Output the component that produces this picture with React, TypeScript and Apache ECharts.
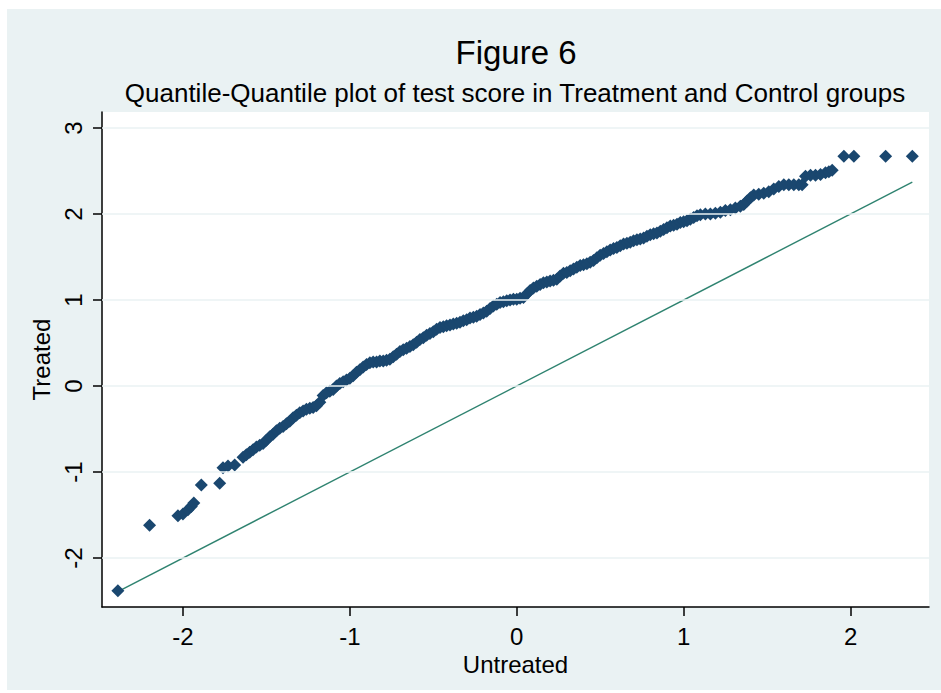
import React, { useEffect, useRef } from "react";
import * as echarts from "echarts";

const titleText = "Figure 6";
const subtitleText = "Quantile-Quantile plot of test score in Treatment and Control groups";
const xName = "Untreated";
const yName = "Treated";

const xTicks = [-2, -1, 0, 1, 2];
const yTicks = [-2, -1, 0, 1, 2, 3];

// Quantiles of untreated (x) and treated (y) test scores
const untreated = [
  -2.39, -2.2, -2.03, -2.0, -1.97, -1.95, -1.935, -1.89, -1.78, -1.76, -1.73, -1.69,
  -1.64, -1.62, -1.6, -1.58, -1.56, -1.54, -1.52, -1.5, -1.48, -1.46,
  -1.44, -1.42, -1.4, -1.38, -1.36, -1.34, -1.32, -1.3, -1.28, -1.26,
  -1.24, -1.22, -1.2, -1.18, -1.16, -1.14, -1.12, -1.1, -1.08, -1.06,
  -1.04, -1.02, -1.0, -0.98, -0.96, -0.94, -0.92, -0.9, -0.88, -0.86,
  -0.84, -0.82, -0.8, -0.78, -0.76, -0.74, -0.72, -0.7, -0.68, -0.66,
  -0.64, -0.62, -0.6, -0.58, -0.56, -0.54, -0.52, -0.5, -0.48, -0.46,
  -0.44, -0.42, -0.4, -0.38, -0.36, -0.34, -0.32, -0.3, -0.28, -0.26,
  -0.24, -0.22, -0.2, -0.18, -0.16, -0.14, -0.12, -0.1, -0.08, -0.06,
  -0.04, -0.02, 0.0, 0.02, 0.04, 0.06, 0.08, 0.1, 0.12, 0.14,
  0.16, 0.18, 0.2, 0.22, 0.24, 0.26, 0.28, 0.3, 0.32, 0.34,
  0.36, 0.38, 0.4, 0.42, 0.44, 0.46, 0.48, 0.5, 0.52, 0.54,
  0.56, 0.58, 0.6, 0.62, 0.64, 0.66, 0.68, 0.7, 0.72, 0.74,
  0.76, 0.78, 0.8, 0.82, 0.84, 0.86, 0.88, 0.9, 0.92, 0.94,
  0.96, 0.98, 1.0, 1.02, 1.04, 1.06, 1.08, 1.1,
  1.13, 1.16, 1.19, 1.22, 1.25, 1.28, 1.31, 1.34, 1.36, 1.38,
  1.4, 1.42, 1.45, 1.48, 1.51, 1.54, 1.57, 1.6, 1.63, 1.66,
  1.69, 1.71, 1.73, 1.76, 1.79, 1.82, 1.85, 1.87, 1.89,
  1.96, 2.02, 2.21, 2.37,
];

const treated = [
  -2.38, -1.62, -1.51, -1.49, -1.44, -1.4, -1.36, -1.15, -1.13, -0.95, -0.93, -0.92,
  -0.83, -0.8, -0.77, -0.74, -0.71, -0.69, -0.67, -0.63, -0.59, -0.56,
  -0.52, -0.49, -0.47, -0.44, -0.41, -0.37, -0.34, -0.31, -0.29, -0.27,
  -0.26, -0.25, -0.23, -0.19, -0.11, -0.08, -0.06, -0.04, 0.0, 0.03,
  0.05, 0.07, 0.09, 0.12, 0.16, 0.19, 0.22, 0.25, 0.27, 0.28,
  0.28, 0.29, 0.29, 0.3, 0.31, 0.34, 0.37, 0.4, 0.42, 0.44,
  0.46, 0.48, 0.51, 0.54, 0.56, 0.59, 0.61, 0.63, 0.66, 0.68,
  0.69, 0.7, 0.71, 0.72, 0.73, 0.74, 0.76, 0.77, 0.79, 0.8,
  0.81, 0.83, 0.85, 0.87, 0.9, 0.93, 0.95, 0.97, 0.98, 0.99,
  1.0, 1.01, 1.01, 1.02, 1.03, 1.07, 1.11, 1.14, 1.16, 1.18,
  1.2, 1.21, 1.22, 1.23, 1.24, 1.28, 1.31, 1.32, 1.34, 1.36,
  1.38, 1.4, 1.41, 1.42, 1.44, 1.46, 1.49, 1.52, 1.54, 1.56,
  1.58, 1.6, 1.61, 1.63, 1.65, 1.66, 1.67, 1.69, 1.7, 1.71,
  1.72, 1.74, 1.76, 1.77, 1.78, 1.8, 1.82, 1.84, 1.86, 1.87,
  1.88, 1.9, 1.91, 1.92, 1.94, 1.96, 1.98, 1.99,
  2.0, 2.0, 2.01, 2.02, 2.04, 2.05, 2.07, 2.09, 2.11, 2.15,
  2.19, 2.22, 2.23, 2.24, 2.26, 2.29, 2.32, 2.34, 2.34, 2.34,
  2.34, 2.34, 2.44, 2.45, 2.45, 2.46, 2.48, 2.49, 2.51,
  2.67, 2.67, 2.67, 2.67,
];

// Reference line y = x between the extremes
const refLineEnds = [-2.39, 2.37];

const FONT = "Arial, 'Liberation Sans', Helvetica, sans-serif";

export default function App() {
  const ref = useRef<HTMLDivElement>(null);

  useEffect(() => {
    document.body.style.margin = "0";
    const chart = echarts.init(ref.current!, null, { renderer: "svg" });
    const n = Math.min(untreated.length, treated.length);
    const points: number[][] = [];
    for (let i = 0; i < n; i++) points.push([untreated[i], treated[i]]);

    chart.setOption({
      animation: false,
      backgroundColor: "#ffffff",
      textStyle: { fontFamily: FONT },
      graphic: [
        {
          type: "rect",
          z: -100,
          silent: true,
          shape: { x: 7, y: 9, width: 934, height: 681 },
          style: { fill: "#eaf2f3" },
        },
        {
          type: "text",
          x: 516,
          y: 52,
          style: {
            text: titleText,
            fill: "#000",
            font: `33px ${FONT}`,
            textAlign: "center",
            textVerticalAlign: "middle",
          },
        },
        {
          type: "text",
          x: 515,
          y: 93,
          style: {
            text: subtitleText,
            fill: "#000",
            font: `26px ${FONT}`,
            textAlign: "center",
            textVerticalAlign: "middle",
          },
        },
      ],
      grid: {
        left: 102,
        right: 12,
        top: 112,
        bottom: 86,
        show: true,
        backgroundColor: "#ffffff",
        borderWidth: 0,
      },
      xAxis: {
        type: "value",
        min: -2.485,
        max: 2.47,
        name: xName,
        nameLocation: "middle",
        nameGap: 38,
        nameTextStyle: { fontSize: 24, color: "#000", fontFamily: FONT },
        axisLine: { show: true, onZero: false, lineStyle: { color: "#000", width: 1.5 } },
        axisTick: { show: true, length: 9, customValues: xTicks, lineStyle: { color: "#000", width: 1.5 } },
        axisLabel: { customValues: xTicks, margin: 17, fontSize: 24, color: "#000", fontFamily: FONT },
        splitLine: { show: false },
      },
      yAxis: {
        type: "value",
        min: -2.57,
        max: 3.186,
        name: yName,
        nameLocation: "middle",
        nameGap: 47,
        nameTextStyle: { fontSize: 24, color: "#000", fontFamily: FONT },
        axisLine: { show: true, onZero: false, lineStyle: { color: "#000", width: 1.5 } },
        axisTick: { show: true, length: 9, customValues: yTicks, lineStyle: { color: "#000", width: 1.5 } },
        axisLabel: { customValues: yTicks, rotate: 90, margin: 17, fontSize: 24, color: "#000", fontFamily: FONT },
        splitLine: { show: false },
      },
      series: [
        {
          type: "line",
          z: 2,
          data: [
            [refLineEnds[0], refLineEnds[0]],
            [refLineEnds[1], refLineEnds[1]],
          ],
          symbol: "none",
          lineStyle: { color: "#2f8370", width: 1.4 },
          markLine: {
            silent: true,
            symbol: ["none", "none"],
            label: { show: false },
            lineStyle: { color: "#eaf2f3", width: 1.5, type: "solid" },
            data: yTicks.map((v) => ({ yAxis: v })),
          },
        },
        {
          type: "scatter",
          z: 3,
          data: points,
          symbol: "diamond",
          symbolSize: 13,
          itemStyle: { color: "#1a476f", opacity: 1 },
        },
      ],
    });
    return () => chart.dispose();
  }, []);

  return <div ref={ref} style={{ width: 941, height: 693 }} />;
}
